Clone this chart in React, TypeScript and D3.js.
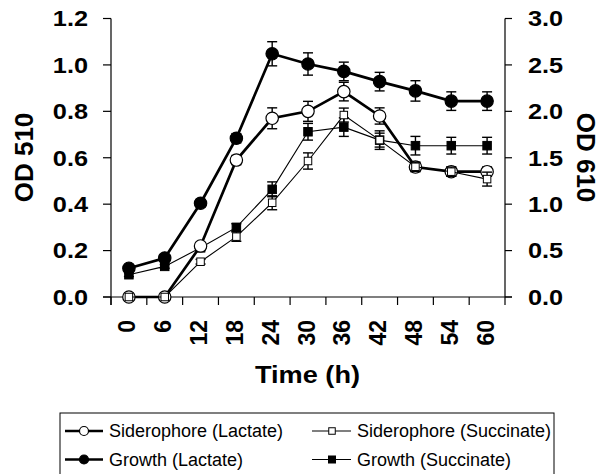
import { useEffect, useRef } from "react";
import * as d3 from "d3";

// time points (h)
const times = ["0", "6", "12", "18", "24", "30", "36", "42", "48", "54", "60"];

// OD 510 (left axis) - siderophore
const sidLactate = [0, 0, 0.22, 0.59, 0.77, 0.8, 0.885, 0.78, 0.56, 0.54, 0.54];
const sidLactateErr = [0, 0, 0.01, 0.02, 0.045, 0.043, 0.04, 0.035, 0.02, 0.02, 0.02];
const sidSuccinate = [0, 0, 0.152, 0.26, 0.406, 0.586, 0.784, 0.676, 0.561, 0.54, 0.508];
const sidSuccinateErr = [0, 0, 0.01, 0.02, 0.03, 0.035, 0.03, 0.03, 0.02, 0.02, 0.03];

// OD 610 (right axis) - growth
const growthLactate = [0.31, 0.42, 1.01, 1.71, 2.62, 2.51, 2.43, 2.32, 2.22, 2.11, 2.11];
const growthLactateErr = [0.02, 0.03, 0.04, 0.05, 0.13, 0.12, 0.1, 0.1, 0.11, 0.1, 0.1];
const growthSuccinate = [0.24, 0.33, 0.53, 0.75, 1.16, 1.78, 1.83, 1.69, 1.63, 1.63, 1.63];
const growthSuccinateErr = [0.02, 0.02, 0.03, 0.04, 0.08, 0.09, 0.1, 0.1, 0.1, 0.09, 0.09];

const leftTicks = [0, 0.2, 0.4, 0.6, 0.8, 1.0, 1.2];
const rightTicks = [0, 0.5, 1.0, 1.5, 2.0, 2.5, 3.0];

const FONT = "'Liberation Sans', Arial, sans-serif";

type Series = {
	name: string;
	values: number[];
	errs: number[];
	axis: "left" | "right";
	shape: "circle" | "square";
	filled: boolean;
	thick: boolean;
};

const series: Series[] = [
	{ name: "Growth (Lactate)", values: growthLactate, errs: growthLactateErr, axis: "right", shape: "circle", filled: true, thick: true },
	{ name: "Growth (Succinate)", values: growthSuccinate, errs: growthSuccinateErr, axis: "right", shape: "square", filled: true, thick: false },
	{ name: "Siderophore (Lactate)", values: sidLactate, errs: sidLactateErr, axis: "left", shape: "circle", filled: false, thick: true },
	{ name: "Siderophore (Succinate)", values: sidSuccinate, errs: sidSuccinateErr, axis: "left", shape: "square", filled: false, thick: false },
];

// legend layout order (row, col)
const legendOrder = [
	"Siderophore (Lactate)", "Siderophore (Succinate)",
	"Growth (Lactate)", "Growth (Succinate)",
];

function drawMarker(g: any, s: Series, cx: number, cy: number, small: boolean) {
	if (s.shape === "circle") {
		g.append("circle")
			.attr("cx", cx).attr("cy", cy)
			.attr("r", small ? 4.5 : 6.2)
			.attr("fill", s.filled ? "#000" : "#fff")
			.attr("stroke", "#000")
			.attr("stroke-width", 1.2);
	} else {
		const sz = s.filled ? (small ? 7 : 8.5) : (small ? 6.5 : 7.5);
		g.append("rect")
			.attr("x", cx - sz / 2).attr("y", cy - sz / 2)
			.attr("width", sz).attr("height", sz)
			.attr("fill", s.filled ? "#000" : "#fff")
			.attr("stroke", "#000")
			.attr("stroke-width", 1);
	}
}

export default function App() {
	const ref = useRef<SVGSVGElement>(null);

	useEffect(() => {
		const svg = d3.select(ref.current);
		svg.selectAll("*").remove();

		const x = d3.scaleBand().domain(times).range([111, 505]).padding(0);
		const yL = d3.scaleLinear().domain([0, 1.2]).range([297, 18.5]);
		const yR = d3.scaleLinear().domain([0, 3]).range([297, 18.5]);
		const cx = (t: string) => (x(t) ?? 0) + x.bandwidth() / 2;

		// axes lines
		const ax = svg.append("g").attr("stroke", "#000").attr("stroke-width", 1.2);
		ax.append("line").attr("x1", 111).attr("x2", 111).attr("y1", 18.5).attr("y2", 305);
		ax.append("line").attr("x1", 505).attr("x2", 505).attr("y1", 18.5).attr("y2", 305);
		ax.append("line").attr("x1", 103).attr("x2", 512).attr("y1", 297).attr("y2", 297);

		// y ticks
		leftTicks.forEach(v => {
			ax.append("line").attr("x1", 103).attr("x2", 111).attr("y1", yL(v)).attr("y2", yL(v));
		});
		rightTicks.forEach(v => {
			ax.append("line").attr("x1", 505).attr("x2", 512).attr("y1", yR(v)).attr("y2", yR(v));
		});
		// x ticks at band boundaries
		times.forEach(t => {
			const xx = x(t) ?? 0;
			ax.append("line").attr("x1", xx).attr("x2", xx).attr("y1", 297).attr("y2", 305);
		});

		// tick labels
		const lab = svg.append("g")
			.attr("font-family", FONT).attr("font-weight", "bold").attr("fill", "#000");
		leftTicks.forEach(v => {
			lab.append("text")
				.attr("transform", `translate(88,${yL(v) + 7.8}) scale(1.15,1)`)
				.attr("text-anchor", "end").attr("font-size", 22)
				.text(d3.format(".1f")(v));
		});
		rightTicks.forEach(v => {
			lab.append("text")
				.attr("transform", `translate(528,${yR(v) + 7.8}) scale(1.15,1)`)
				.attr("text-anchor", "start").attr("font-size", 22)
				.text(d3.format(".1f")(v));
		});
		times.forEach(t => {
			lab.append("text")
				.attr("transform", `translate(${cx(t) + 6.5},320) rotate(-90)`)
				.attr("text-anchor", "end").attr("font-size", 23)
				.text(t);
		});

		// axis titles
		lab.append("text")
			.attr("transform", "translate(307.5,383) scale(1.18,1)")
			.attr("text-anchor", "middle").attr("font-size", 23)
			.text("Time (h)");
		lab.append("text")
			.attr("transform", "translate(33,157.5) rotate(-90)")
			.attr("text-anchor", "middle").attr("font-size", 26)
			.text("OD 510");
		lab.append("text")
			.attr("transform", "translate(577,157.5) rotate(90)")
			.attr("text-anchor", "middle").attr("font-size", 26)
			.text("OD 610");

		// series
		series.forEach(s => {
			const y = s.axis === "left" ? yL : yR;
			const g = svg.append("g");
			const line = d3.line<number>()
				.x((_, i) => cx(times[i]))
				.y(d => y(d));
			g.append("path")
				.attr("d", line(s.values))
				.attr("fill", "none")
				.attr("stroke", "#000")
				.attr("stroke-width", s.thick ? 2.7 : 1.1);

			// error bars
			s.values.forEach((v, i) => {
				const e = s.errs[i];
				if (!e) return;
				const xx = cx(times[i]);
				const eg = g.append("g").attr("stroke", "#000").attr("stroke-width", 1.4);
				eg.append("line").attr("x1", xx).attr("x2", xx).attr("y1", y(v - e)).attr("y2", y(v + e));
				eg.append("line").attr("x1", xx - 5).attr("x2", xx + 5).attr("y1", y(v - e)).attr("y2", y(v - e));
				eg.append("line").attr("x1", xx - 5).attr("x2", xx + 5).attr("y1", y(v + e)).attr("y2", y(v + e));
			});

			s.values.forEach((v, i) => drawMarker(g, s, cx(times[i]), y(v), false));
		});

		// legend
		const lg = svg.append("g");
		lg.append("rect")
			.attr("x", 60).attr("y", 413)
			.attr("width", 494).attr("height", 80)
			.attr("fill", "#fff").attr("stroke", "#000").attr("stroke-width", 1);
		const colX = [[65, 103, 84, 109], [312, 351, 332, 357]];
		const rowY = [431, 459.5];
		legendOrder.forEach((name, k) => {
			const s = series.find(d => d.name === name)!;
			const [x1, x2, mx, tx] = colX[k % 2];
			const yy = rowY[Math.floor(k / 2)];
			lg.append("line")
				.attr("x1", x1).attr("x2", x2).attr("y1", yy).attr("y2", yy)
				.attr("stroke", "#000").attr("stroke-width", s.thick ? 2.7 : 1.1);
			drawMarker(lg, s, mx, yy, true);
			lg.append("text")
				.attr("x", tx).attr("y", yy + 6.3)
				.attr("font-family", FONT).attr("font-size", 18)
				.text(name);
		});
	}, []);

	return (
		<svg
			ref={ref}
			width={608}
			height={474}
			style={{ position: "absolute", left: 0, top: 0, background: "#fff" }}
		/>
	);
}
